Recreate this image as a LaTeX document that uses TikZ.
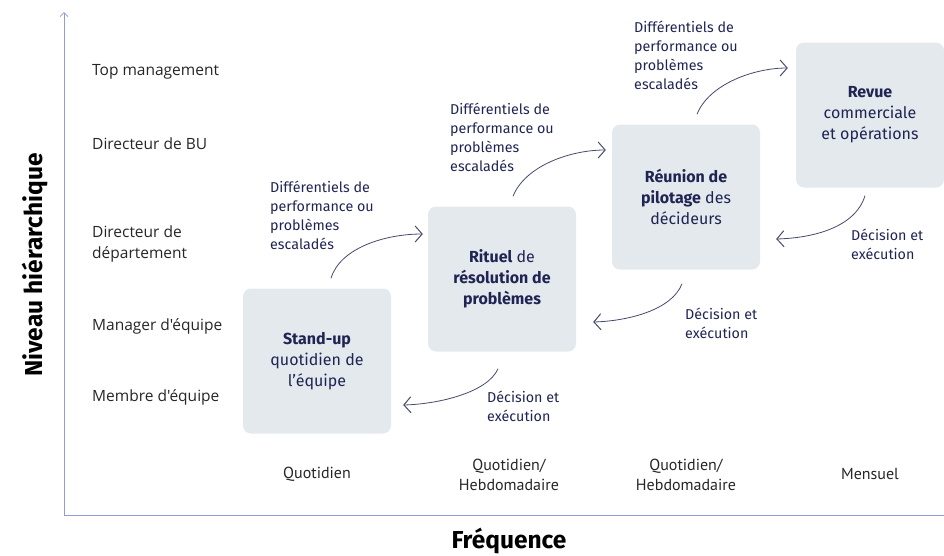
\documentclass[tikz,border=0pt]{standalone}
\usepackage{fontspec}
\setmainfont{Fira Sans}
\newfontfamily\levelfont{Open Sans}
\newfontfamily\freqfont{PT Sans}
\usetikzlibrary{arrows.meta}
\definecolor{NavyText}{HTML}{1F2453}
\definecolor{BoxFill}{HTML}{E4E9EE}
\definecolor{AxisBlue}{HTML}{8E9CD9}
\definecolor{ArrowGrey}{HTML}{46496A}

\begin{document}
\begin{tikzpicture}[x=1pt,y=-1pt,
    ritual/.style={fill=BoxFill,rounded corners=8pt,minimum width=148pt,minimum height=145pt,
      align=center,text=NavyText,font=\fontsize{16}{21}\selectfont},
    level/.style={anchor=west,inner sep=0pt,align=left,text=black!85,font=\levelfont\fontsize{15.5}{21}\selectfont},
    freq/.style={align=center,text=black!85,font=\freqfont\fontsize{16}{20}\selectfont},
    flow/.style={ArrowGrey,line width=0.8pt,-{Straight Barb[length=7pt,width=16pt,line width=1pt]}},
    flowlabel/.style={anchor=north west,inner sep=0pt,align=left,text=NavyText,font=\fontsize{14.3}{19}\selectfont},
    axistitle/.style={font=\bfseries\fontsize{24.5}{28}\selectfont,text=black}]
  \useasboundingbox (0,0) rectangle (944,555);

  % axes
  \coordinate (origin) at (64,515);
  \coordinate (ytop) at (64,12);
  \coordinate (xend) at (944,515);
  \draw[AxisBlue,line width=0.8pt,-{Straight Barb[length=4pt,width=8pt]}] (origin) -- (ytop);
  \draw[AxisBlue,line width=0.8pt] (origin) -- (xend);
  \node[axistitle,rotate=90] (ytitle) at (35,265) {Niveau hiérarchique};
  \node[axistitle] (xtitle) at (509,541) {Fréquence};

  % hierarchy levels
  \node[level] (top) at (92,72) {Top management};
  \node[level] (bu) at (92,144) {Directeur de BU};
  \node[level] (dept) at (92,244) {Directeur de\\département};
  \node[level] (mgr) at (92,326) {Manager d'équipe};
  \node[level] (member) at (92,397) {Membre d'équipe};

  % frequencies
  \node[freq] (f1) at (317,474) {Quotidien};
  \node[freq] (f2) at (509,475) {Quotidien/\\Hebdomadaire};
  \node[freq] (f3) at (686,475) {Quotidien/\\Hebdomadaire};
  \node[freq] (f4) at (870,474) {Mensuel};

  % rituals
  \node[ritual] (standup) at (317,361) {\textbf{Stand-up}\\quotidien de\\l'équipe};
  \node[ritual] (rituel) at (502,279) {\textbf{Rituel} de\\\textbf{résolution de}\\\textbf{problèmes}};
  \node[ritual] (pilotage) at (686,197) {\textbf{Réunion de}\\\textbf{pilotage} des\\décideurs};
  \node[ritual] (revue) at (870,115) {\textbf{Revue}\\commerciale\\et opérations};

  % escalation
  \draw[flow] ([xshift=14pt,yshift=10pt]standup.north) .. controls (340,248) and (385,234) .. ([xshift=-5pt,yshift=45pt]rituel.west);
  \draw[flow] ([xshift=11pt,yshift=10pt]rituel.north) .. controls (525,166) and (570,150) .. ([xshift=-6pt,yshift=47pt]pilotage.west);
  \draw[flow] ([xshift=11pt,yshift=10pt]pilotage.north) .. controls (709,84) and (754,68) .. ([xshift=-8pt,yshift=47pt]revue.west);
  \node[flowlabel] (esc1) at (270,181) {Différentiels de\\performance ou\\problèmes\\escaladés};
  \node[flowlabel] (esc2) at (450,103) {Différentiels de\\performance ou\\problèmes\\escaladés};
  \node[flowlabel] (esc3) at (634,21) {Différentiels de\\performance ou\\problèmes\\escaladés};

  % decisions
  \draw[flow] ([xshift=-5pt,yshift=-8pt]revue.south) .. controls (855,228) and (812,238) .. ([xshift=16pt,yshift=-42pt]pilotage.east);
  \draw[flow] ([xshift=-4pt,yshift=-14pt]pilotage.south) .. controls (672,310) and (628,321) .. ([xshift=17pt,yshift=-43pt]rituel.east);
  \draw[flow] ([xshift=-4pt,yshift=-17pt]rituel.south) .. controls (488,392) and (440,404) .. ([xshift=12pt,yshift=-44pt]standup.east);
  \node[flowlabel] (dec1) at (851,229) {Décision et\\exécution};
  \node[flowlabel] (dec2) at (685,308) {Décision et\\exécution};
  \node[flowlabel] (dec3) at (487,391) {Décision et\\exécution};
\end{tikzpicture}
\end{document}
